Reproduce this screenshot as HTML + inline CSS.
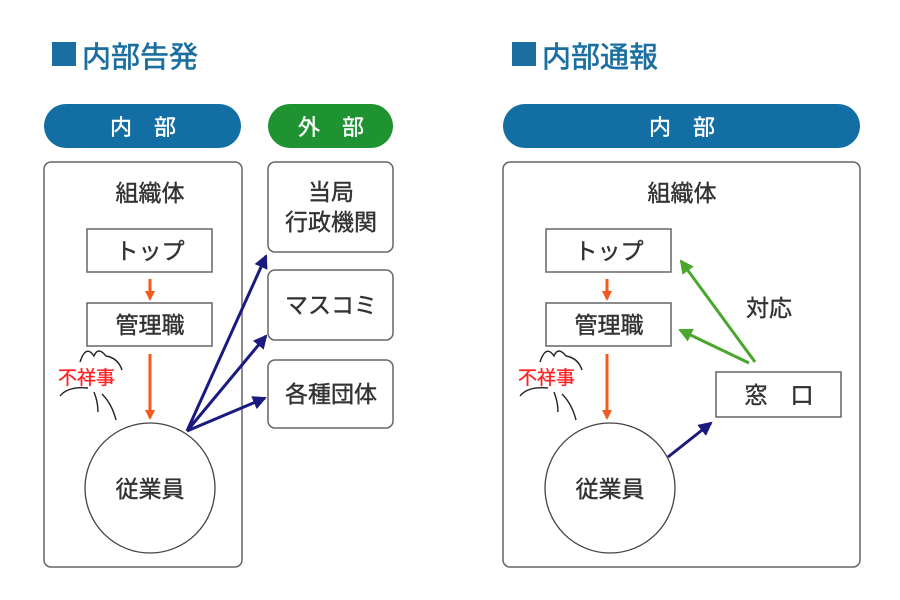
<!DOCTYPE html>
<html><head><meta charset="utf-8"><style>
html,body{margin:0;padding:0;background:#fff;}
svg{display:block;}
text{font-family:"Liberation Sans","Noto Sans CJK JP",sans-serif;}
</style></head><body>
<svg width="900" height="600" viewBox="0 0 900 600" xmlns="http://www.w3.org/2000/svg">
<defs>
<marker id="ao" markerWidth="10" markerHeight="10" refX="8" refY="5" orient="auto" markerUnits="userSpaceOnUse"><path d="M0,0 L10,5 L0,10 z" fill="#f35a1c"/></marker>
<marker id="ab" markerWidth="14" markerHeight="14" refX="12" refY="7" orient="auto" markerUnits="userSpaceOnUse"><path d="M0,0 L14,7 L0,14 z" fill="#1a1a80"/></marker>
<marker id="ag" markerWidth="14" markerHeight="14" refX="12" refY="7" orient="auto" markerUnits="userSpaceOnUse"><path d="M0,0 L14,7 L0,14 z" fill="#4aa62e"/></marker>
</defs>
<g fill="none" stroke="#666" stroke-width="1.5">
<rect x="44" y="162" width="198" height="405" rx="7"/>
<rect x="268" y="162" width="125" height="90" rx="7"/>
<rect x="268" y="270" width="125" height="70" rx="7"/>
<rect x="268" y="360" width="125" height="68" rx="7"/>
<rect x="503" y="162" width="357" height="405" rx="7"/>
<rect x="87" y="229" width="125" height="43"/>
<rect x="87" y="303" width="125" height="43"/>
<rect x="546" y="229" width="125" height="43"/>
<rect x="546" y="303" width="125" height="43"/>
<rect x="716" y="372" width="125" height="45"/>
</g>
<g fill="none" stroke="#444" stroke-width="1.3">
<circle cx="150" cy="488" r="65"/>
<circle cx="610" cy="488" r="65"/>
</g>
<rect x="52" y="42" width="24" height="24" fill="#1a6fa0"/>
<text x="82" y="67" font-size="29" fill="#1a6fa0" stroke="#1a6fa0" stroke-width="0.6">内部告発</text>
<rect x="512" y="42" width="24" height="24" fill="#1a6fa0"/>
<text x="542" y="67" font-size="29" fill="#1a6fa0" stroke="#1a6fa0" stroke-width="0.6">内部通報</text>
<rect x="44" y="104" width="197" height="44" rx="22" fill="#136ea3"/>
<rect x="268" y="104" width="125" height="44" rx="22" fill="#1f9232"/>
<rect x="503" y="104" width="357" height="44" rx="22" fill="#136ea3"/>
<g font-size="22" fill="#fff" text-anchor="middle" stroke="#fff" stroke-width="0.4">
<text x="143" y="135">内　部</text>
<text x="331" y="135">外　部</text>
<text x="682" y="135">内　部</text>
</g>
<g font-size="23" fill="#333" text-anchor="middle" stroke="#333" stroke-width="0.4">
<text x="150" y="201">組織体</text>
<text x="150" y="259">トップ</text>
<text x="150" y="333">管理職</text>
<text x="150" y="497">従業員</text>
<text x="331" y="200">当局</text>
<text x="331" y="230">行政機関</text>
<text x="331" y="313">マスコミ</text>
<text x="331" y="402">各種団体</text>
<text x="682" y="201">組織体</text>
<text x="609" y="259">トップ</text>
<text x="609" y="333">管理職</text>
<text x="610" y="497">従業員</text>
<text x="779" y="403">窓　口</text>
<text x="769" y="316">対応</text>
</g>
<g stroke="#f35a1c" stroke-width="3">
<line x1="150" y1="279" x2="150" y2="299" marker-end="url(#ao)"/>
<line x1="150" y1="354" x2="150" y2="418" marker-end="url(#ao)"/>
<line x1="607" y1="279" x2="607" y2="299" marker-end="url(#ao)"/>
<line x1="607" y1="354" x2="607" y2="418" marker-end="url(#ao)"/>
</g>
<g stroke="#1a1a80" stroke-width="3">
<line x1="187" y1="431" x2="266" y2="256" marker-end="url(#ab)"/>
<line x1="187" y1="431" x2="266" y2="336" marker-end="url(#ab)"/>
<line x1="187" y1="431" x2="265" y2="398" marker-end="url(#ab)"/>
<line x1="668" y1="457" x2="711" y2="423" marker-end="url(#ab)"/>
</g>
<g stroke="#4aa62e" stroke-width="3">
<line x1="755" y1="362" x2="681" y2="261" marker-end="url(#ag)"/>
<line x1="749" y1="363" x2="680" y2="330" marker-end="url(#ag)"/>
</g>
<g fill="none" stroke="#222" stroke-width="1.4">
<path d="M80,362 q6,-18 14,-6 q4,-10 12,0 q12,2 16,14 M60,396 q8,-10 28,-8 M94,392 q4,10 4,20 M102,394 q10,10 14,26"/>
<path d="M540,362 q6,-18 14,-6 q4,-10 12,0 q12,2 16,14 M520,396 q8,-10 28,-8 M554,392 q4,10 4,20 M562,394 q10,10 14,26"/>
</g>
<g font-size="19" fill="#ff2020" stroke="#ff2020" stroke-width="0.3">
<text x="58" y="384">不祥事</text>
<text x="518" y="384">不祥事</text>
</g>
</svg>
</body></html>
